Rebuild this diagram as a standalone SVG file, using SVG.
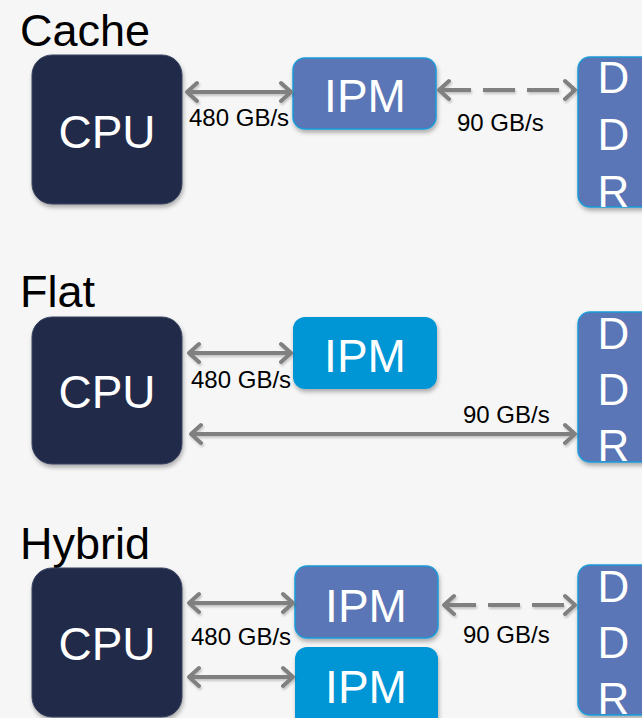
<svg xmlns="http://www.w3.org/2000/svg" width="642" height="718" viewBox="0 0 642 718">
  <style>
    .title { font-family: "Liberation Sans", Arial, sans-serif; font-size: 45px; fill: #000; }
    .big { font-family: "Liberation Sans", Arial, sans-serif; font-size: 46px; fill: #fff; text-anchor: middle; }
    .ddr { font-family: "Liberation Sans", Arial, sans-serif; font-size: 44px; fill: #fff; text-anchor: middle; }
    .lbl { font-family: "Liberation Sans", Arial, sans-serif; font-size: 24px; fill: #000; }
    .cpu { fill: #212c4a; stroke: #3a4560; stroke-width: 1; filter: url(#sh); }
    .ipmA { fill: #5a76b6; stroke: #1b9ad8; stroke-width: 1.5; filter: url(#sh); }
    .ipmB { fill: #0096d6; filter: url(#sh); }
    .ddrbox { fill: #5a76b6; stroke: #1b9ad8; stroke-width: 1.5; filter: url(#sh); }
    .arr { stroke: #808080; stroke-width: 4; fill: none; marker-start: url(#ah); marker-end: url(#ah); }
    .dash { stroke-dasharray: 32 12; }
  </style>
  <defs>
    <filter id="sh" x="-20%" y="-20%" width="140%" height="140%">
      <feDropShadow dx="1" dy="3" stdDeviation="2" flood-color="#000" flood-opacity="0.3"/>
    </filter>
    <filter id="ash" filterUnits="userSpaceOnUse" x="0" y="0" width="642" height="718">
      <feDropShadow dx="1" dy="2" stdDeviation="1.2" flood-color="#000" flood-opacity="0.2"/>
    </filter>
    <marker id="ah" markerUnits="userSpaceOnUse" viewBox="-14 -12 16 24" refX="0" refY="0" markerWidth="16" markerHeight="24" orient="auto-start-reverse">
      <path d="M -10 -9 L 0 0 L -10 9" fill="none" stroke="#808080" stroke-width="4" stroke-linecap="round" stroke-linejoin="round" stroke-dasharray="none"/>
    </marker>
    <clipPath id="c1"><rect x="578" y="57" width="80" height="150" rx="12"/></clipPath>
    <clipPath id="c2"><rect x="578" y="312" width="80" height="150" rx="12"/></clipPath>
    <clipPath id="c3"><rect x="578" y="565" width="80" height="150" rx="12"/></clipPath>
  </defs>
  <rect x="0" y="0" width="642" height="718" fill="#f6f6f6"/>

  <!-- Cache -->
  <text class="title" x="20" y="46">Cache</text>
  <g id="cache-cpu"><rect class="cpu" x="32" y="55" width="150" height="149" rx="20"/><text class="big" x="107" y="148">CPU</text></g>
  <g id="cache-ipm"><rect class="ipmA" x="293" y="58" width="143" height="71" rx="12"/><text class="big" x="365" y="112">IPM</text></g>
  <g id="cache-ddr"><rect class="ddrbox" x="578" y="57" width="80" height="150" rx="12"/>
    <g clip-path="url(#c1)"><text class="ddr" x="613.5" y="93">D</text><text class="ddr" x="613.5" y="150">D</text><text class="ddr" x="613.5" y="207">R</text></g></g>

  <!-- Flat -->
  <text class="title" x="20" y="307">Flat</text>
  <g id="flat-cpu"><rect class="cpu" x="32" y="317" width="150" height="147" rx="20"/><text class="big" x="107" y="408">CPU</text></g>
  <g id="flat-ipm"><rect class="ipmB" x="293" y="317" width="144" height="72" rx="12"/><text class="big" x="365" y="372">IPM</text></g>
  <g id="flat-ddr"><rect class="ddrbox" x="578" y="312" width="80" height="150" rx="12"/>
    <g clip-path="url(#c2)"><text class="ddr" x="613.5" y="349">D</text><text class="ddr" x="613.5" y="405">D</text><text class="ddr" x="613.5" y="461">R</text></g></g>

  <!-- Hybrid -->
  <text class="title" x="20" y="559">Hybrid</text>
  <g id="hybrid-cpu"><rect class="cpu" x="32" y="568" width="150" height="149" rx="20"/><text class="big" x="107" y="660">CPU</text></g>
  <g id="hybrid-ipm1"><rect class="ipmA" x="295" y="566" width="143" height="72" rx="12"/><text class="big" x="366" y="622">IPM</text></g>
  <g id="hybrid-ipm2"><rect class="ipmB" x="295" y="647" width="143" height="82" rx="12"/><text class="big" x="366" y="703">IPM</text></g>
  <g id="hybrid-ddr"><rect class="ddrbox" x="578" y="565" width="80" height="150" rx="12"/>
    <g clip-path="url(#c3)"><text class="ddr" x="613.5" y="602">D</text><text class="ddr" x="613.5" y="658">D</text><text class="ddr" x="613.5" y="714">R</text></g></g>

  <!-- Connectors -->
  <g id="connectors" filter="url(#ash)">
    <line class="arr" x1="187" y1="92" x2="291" y2="92"/>
    <line class="arr dash" x1="439" y1="90" x2="575" y2="90"/>
    <line class="arr" x1="189" y1="353" x2="291" y2="353"/>
    <line class="arr" x1="191" y1="434" x2="575" y2="434"/>
    <line class="arr" x1="189" y1="603" x2="293" y2="603"/>
    <line class="arr" x1="189" y1="677" x2="293" y2="677"/>
    <line class="arr dash" x1="444" y1="605" x2="575" y2="605"/>
  </g>

  <!-- Labels -->
  <g id="labels">
    <text class="lbl" x="189" y="126">480 GB/s</text>
    <text class="lbl" x="457" y="131">90 GB/s</text>
    <text class="lbl" x="191" y="388">480 GB/s</text>
    <text class="lbl" x="463" y="423">90 GB/s</text>
    <text class="lbl" x="191" y="645">480 GB/s</text>
    <text class="lbl" x="463" y="643">90 GB/s</text>
  </g>
</svg>
